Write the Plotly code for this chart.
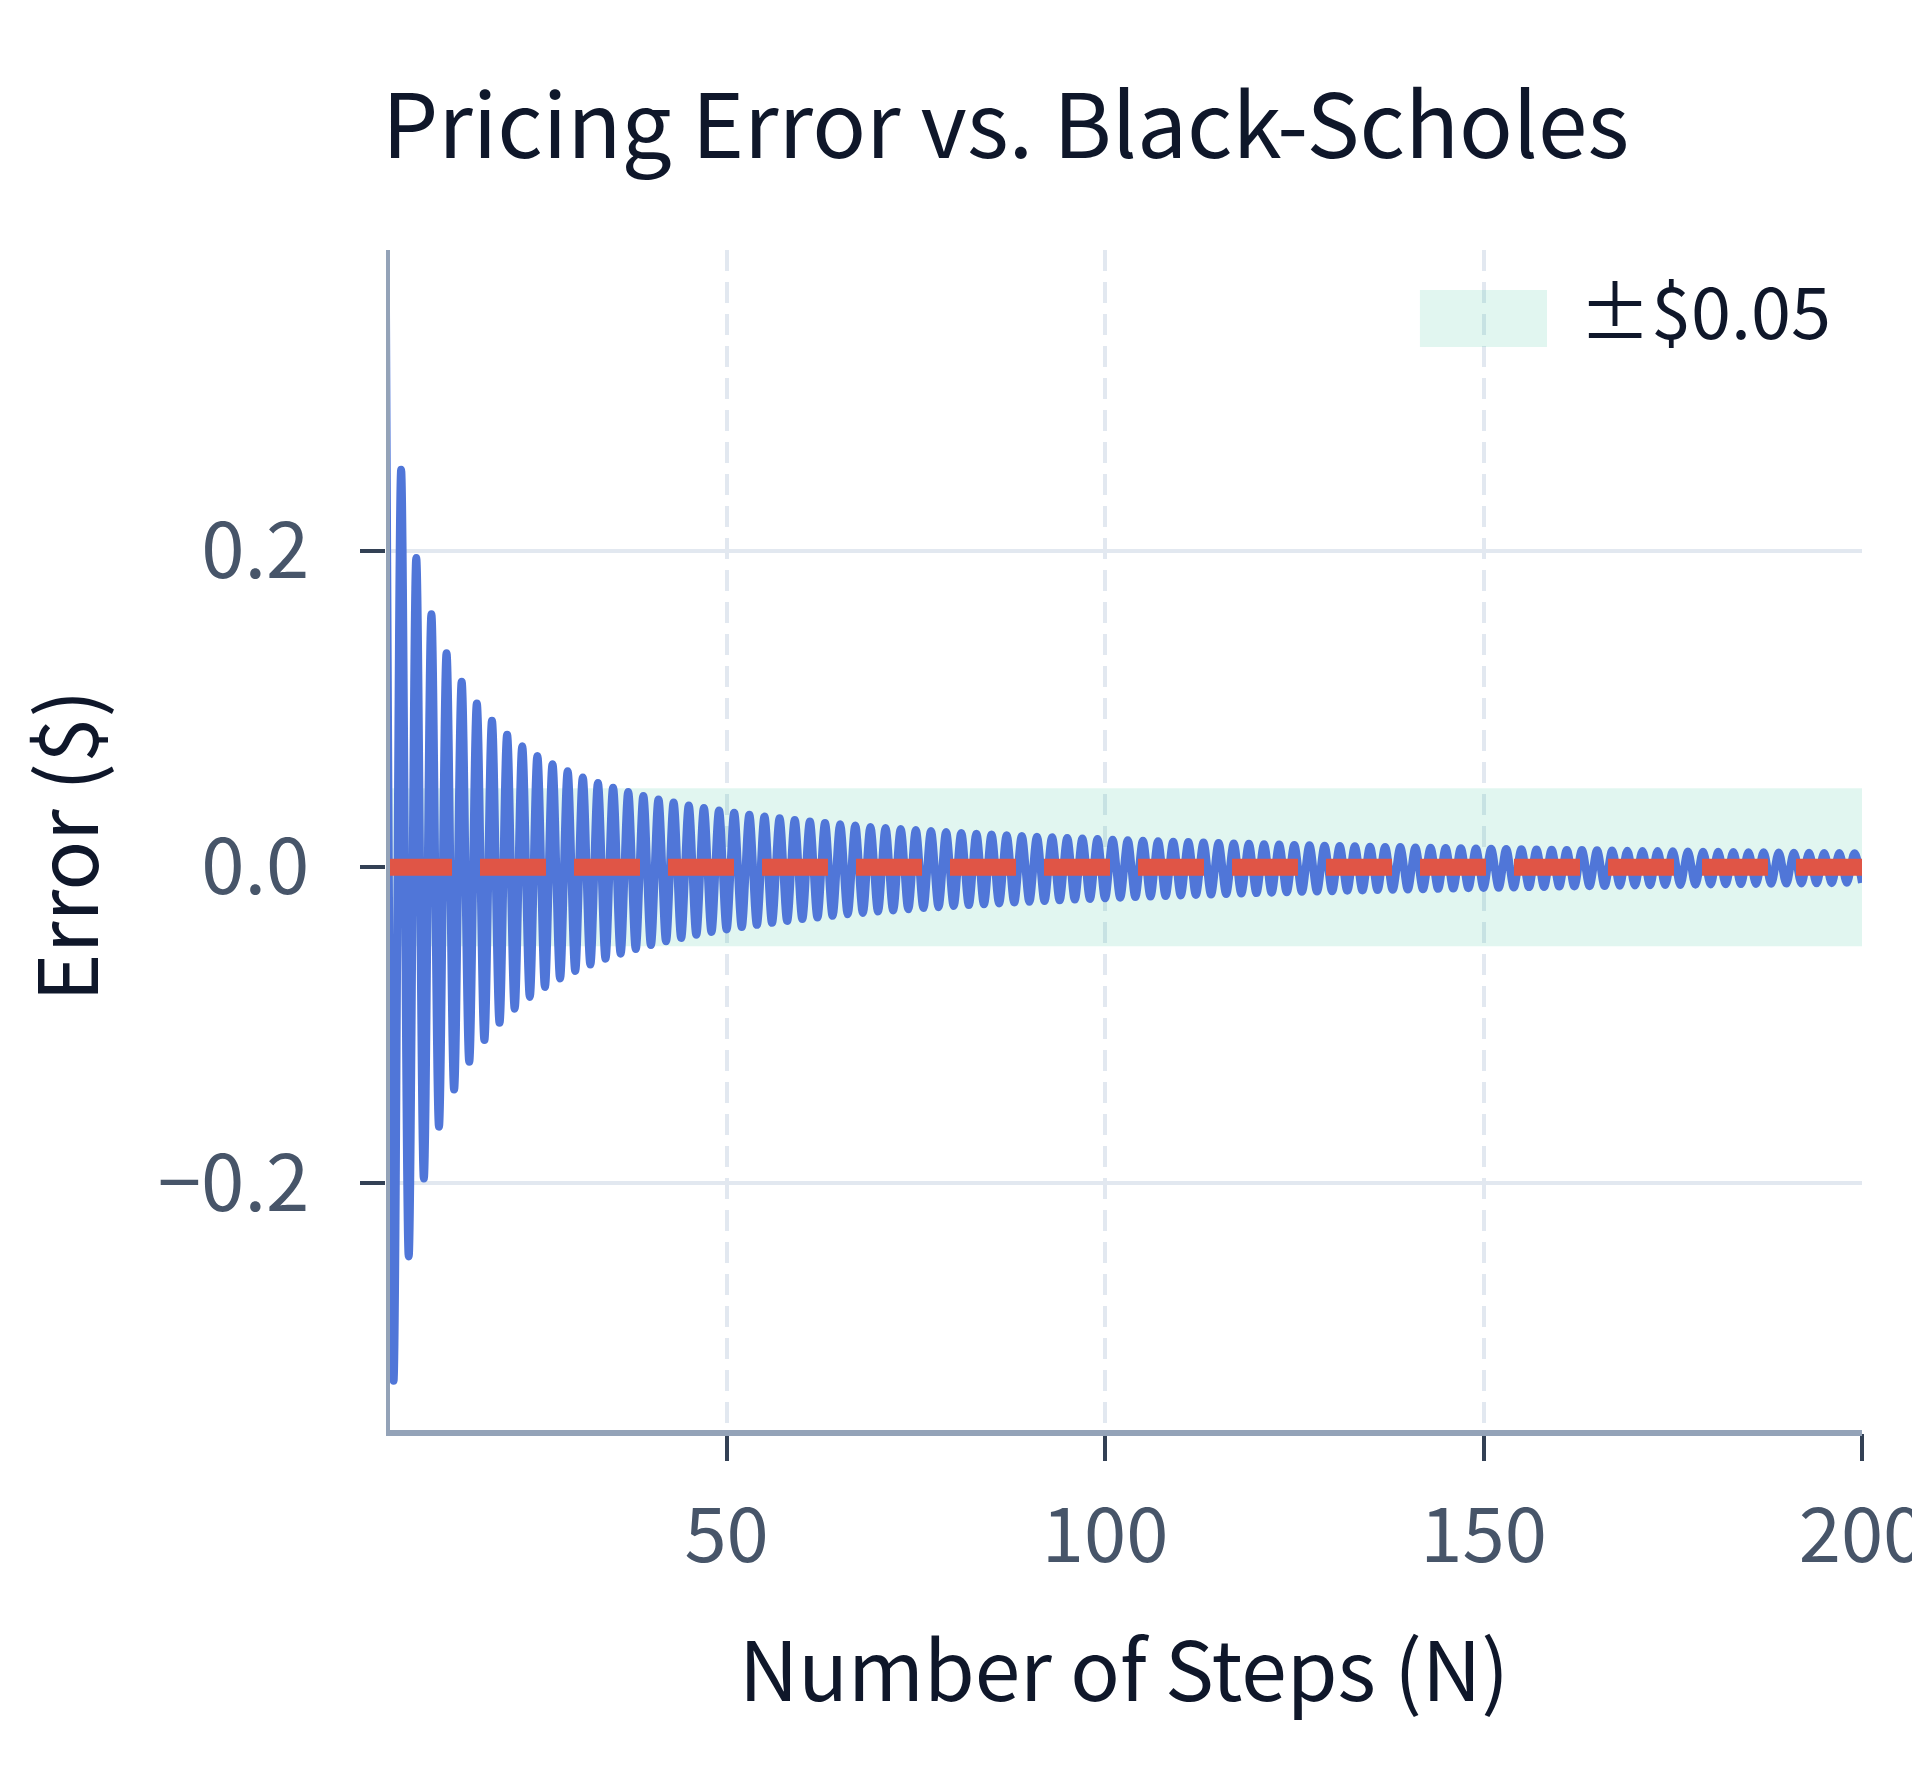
import plotly.graph_objects as go

# binomial tree pricing error vs number of steps
n_steps = list(range(5, 201))
pricing_error = [
    0.3520, -0.3250, 0.2514, -0.2463, 0.1956, -0.1970, 0.1600, -0.1642, 0.1354, -0.1407,
    0.1173, -0.1231, 0.1035, -0.1094, 0.0926, -0.0985, 0.0838, -0.0895, 0.0765, -0.0821,
    0.0704, -0.0758, 0.0652, -0.0704, 0.0607, -0.0657, 0.0568, -0.0616, 0.0533, -0.0579,
    0.0503, -0.0547, 0.0476, -0.0518, 0.0451, -0.0493, 0.0429, -0.0469, 0.0409, -0.0448,
    0.0391, -0.0428, 0.0374, -0.0410, 0.0359, -0.0394, 0.0345, -0.0379, 0.0332, -0.0365,
    0.0320, -0.0352, 0.0309, -0.0340, 0.0298, -0.0328, 0.0289, -0.0318, 0.0279, -0.0308,
    0.0271, -0.0298, 0.0263, -0.0290, 0.0255, -0.0281, 0.0248, -0.0274, 0.0241, -0.0266,
    0.0235, -0.0259, 0.0229, -0.0253, 0.0223, -0.0246, 0.0217, -0.0240, 0.0212, -0.0235,
    0.0207, -0.0229, 0.0202, -0.0224, 0.0198, -0.0219, 0.0193, -0.0214, 0.0189, -0.0210,
    0.0185, -0.0205, 0.0181, -0.0201, 0.0178, -0.0197, 0.0174, -0.0193, 0.0171, -0.0189,
    0.0168, -0.0186, 0.0164, -0.0182, 0.0161, -0.0179, 0.0159, -0.0176, 0.0156, -0.0173,
    0.0153, -0.0170, 0.0150, -0.0167, 0.0148, -0.0164, 0.0145, -0.0161, 0.0143, -0.0159,
    0.0141, -0.0156, 0.0139, -0.0154, 0.0136, -0.0152, 0.0134, -0.0149, 0.0132, -0.0147,
    0.0130, -0.0145, 0.0128, -0.0143, 0.0127, -0.0141, 0.0125, -0.0139, 0.0123, -0.0137,
    0.0121, -0.0135, 0.0120, -0.0133, 0.0118, -0.0131, 0.0117, -0.0130, 0.0115, -0.0128,
    0.0114, -0.0126, 0.0112, -0.0125, 0.0111, -0.0123, 0.0109, -0.0122, 0.0108, -0.0120,
    0.0107, -0.0119, 0.0105, -0.0117, 0.0104, -0.0116, 0.0103, -0.0115, 0.0102, -0.0113,
    0.0101, -0.0112, 0.0099, -0.0111, 0.0098, -0.0109, 0.0097, -0.0108, 0.0096, -0.0107,
    0.0095, -0.0106, 0.0094, -0.0105, 0.0093, -0.0104, 0.0092, -0.0103, 0.0091, -0.0102,
    0.0090, -0.0101, 0.0089, -0.0099, 0.0088, -0.0099,
]
band = 0.05          # tolerance band +/- $0.05
band_label = "±$0.05"

FONT = "Noto Sans CJK KR"
BAND_COLOR = "rgba(20,184,140,0.13)"
AXIS_COLOR = "#94a3b8"

n_lo, n_hi = n_steps[0], n_steps[-1]

fig = go.Figure()

# tolerance band
fig.add_trace(go.Scatter(
    x=[n_lo, n_hi, n_hi, n_lo, n_lo],
    y=[-band, -band, band, band, -band],
    fill="toself", fillcolor=BAND_COLOR,
    line=dict(width=0, color="rgba(0,0,0,0)"),
    mode="lines", name=band_label, hoverinfo="skip", showlegend=False,
))

# error line
fig.add_trace(go.Scatter(
    x=n_steps, y=pricing_error, mode="lines",
    line=dict(color="#5076d8", width=8, shape="spline", smoothing=1),
    showlegend=False, name="Error",
))

# zero reference
fig.add_trace(go.Scatter(
    x=[n_lo, n_hi], y=[0, 0], mode="lines",
    line=dict(color="#e05546", width=17, dash="66px,28px"),
    showlegend=False, name="Black-Scholes",
))

# axis lines drawn on the plot edge, above the data
fig.add_shape(type="line", xref="x", yref="paper", x0=n_lo, x1=n_lo, y0=0, y1=1,
              line=dict(color=AXIS_COLOR, width=8), layer="above")
fig.add_shape(type="line", xref="paper", yref="paper", x0=0, x1=1, y0=0, y1=0,
              line=dict(color=AXIS_COLOR, width=6), layer="above")

# legend (swatch + label) in the top right corner
fig.add_shape(type="rect", xref="paper", yref="paper",
              x0=0.7005, x1=0.7866, y0=0.918, y1=0.9662,
              fillcolor=BAND_COLOR, line=dict(width=0), layer="above")
fig.add_annotation(text=band_label, xref="paper", yref="paper", x=0.8072, y=0.9518,
                   xanchor="left", yanchor="middle", showarrow=False,
                   font=dict(size=72, color="#0f172a", family=FONT))

# y axis title, placed by hand so it sits at the reference distance
fig.add_annotation(text="Error ($)", xref="paper", yref="paper", x=-0.2192, y=0.4969,
                   xanchor="center", yanchor="middle", textangle=-90, showarrow=False,
                   font=dict(size=82, color="#0f172a", family=FONT))

fig.update_layout(
    width=1920, height=1792,
    paper_bgcolor="white", plot_bgcolor="white",
    margin=dict(l=378, r=66, t=242, b=367),
    font=dict(family=FONT, color="#0f172a"),
    title=dict(text="Pricing Error vs. Black-Scholes", font=dict(size=89, color="#0f172a"),
               x=374 / 1920, xref="container", xanchor="left",
               y=1 - 119 / 1792, yref="container", yanchor="middle"),
    showlegend=False,
)

fig.update_xaxes(
    title=dict(text="Number of Steps (N)", font=dict(size=82, color="#0f172a"), standoff=60),
    range=[n_lo, n_hi], dtick=50, tick0=0, automargin=False,
    showgrid=True, gridcolor="#e2e8f0", gridwidth=4, griddash="21px,11px",
    showline=False,
    ticks="outside", ticklen=27, tickwidth=4, tickcolor="#334155",
    tickfont=dict(size=76, color="#475569"), ticklabelstandoff=10,
    ticklabeloverflow="allow", zeroline=False,
)
fig.update_yaxes(
    range=[-0.358, 0.3905], dtick=0.2, tick0=0, tickformat=".1f", automargin=False,
    showgrid=True, gridcolor="#e2e8f0", gridwidth=4,
    showline=False,
    ticks="outside", ticklen=25, tickwidth=4, tickcolor="#334155",
    tickfont=dict(size=78, color="#475569"), ticklabelstandoff=35, zeroline=False,
)

fig.write_html("out.html")
